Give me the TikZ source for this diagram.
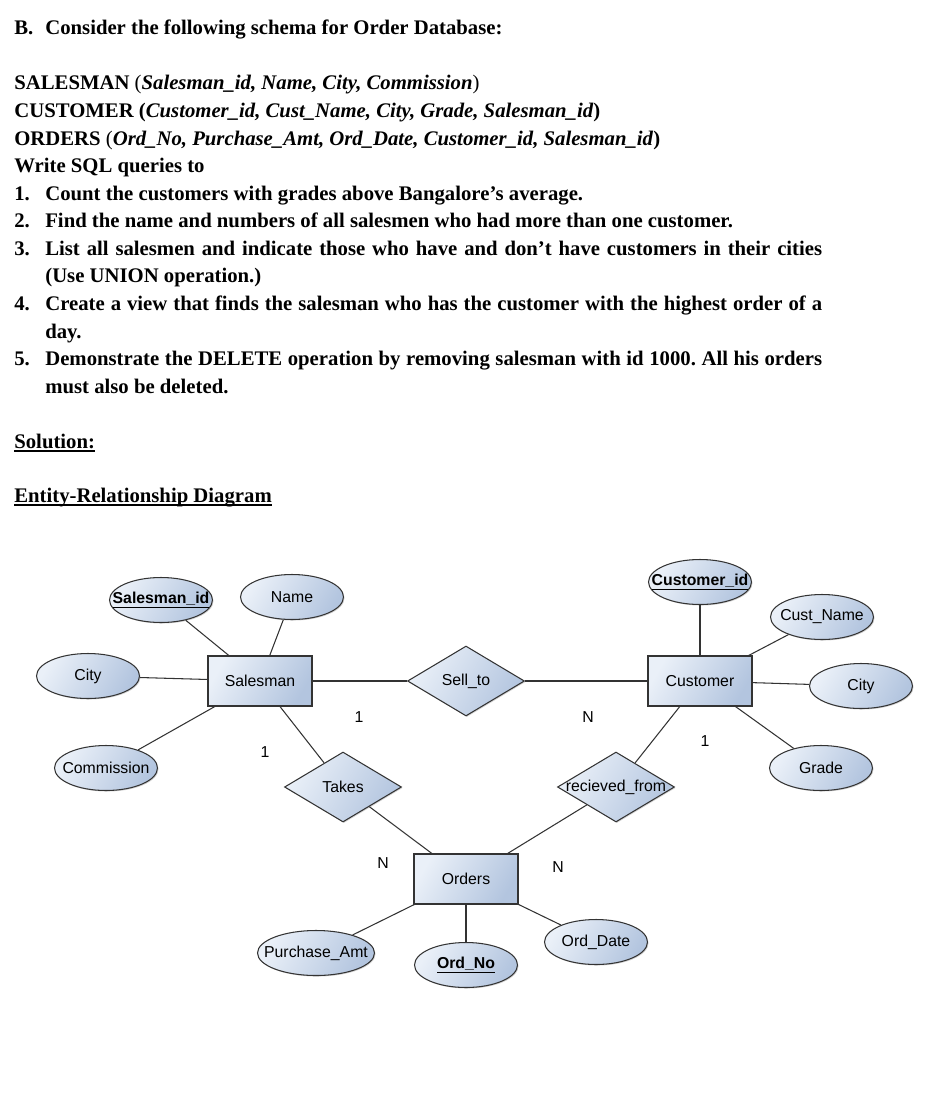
\documentclass[tikz,border=0pt]{standalone}
\usepackage{fontspec}
\setmainfont{Liberation Serif}
\newfontfamily\erfont{Liberation Sans}
\usetikzlibrary{shapes.geometric,shadows}
\definecolor{erlight}{HTML}{EAF0F8}
\definecolor{erdark}{HTML}{B3C5DF}
\definecolor{erline}{HTML}{333333}
\frenchspacing
\newcommand{\itm}[1]{\makebox[0.62cm][l]{#1}}
\newcommand{\jline}[1]{\makebox[16.16cm][s]{#1}}
\newcommand{\lbl}[1]{\makebox[0pt]{#1}}
\newsavebox{\ulbox}
\newcommand{\thul}[1]{\sbox{\ulbox}{#1}\usebox{\ulbox}\llap{\rule[-2.4pt]{\wd\ulbox}{1.2pt}}}
\begin{document}
\begin{tikzpicture}[x=0.02cm,y=-0.02cm,
  txt/.style={anchor=base west,inner sep=0,font=\fontsize{11.8}{14}\selectfont\bfseries},
  er/.style={draw=erline,line width=0.6pt,left color=erlight,right color=erdark,shading angle=60,
    drop shadow={shadow xshift=0.6pt,shadow yshift=-0.6pt,opacity=0.35},
    font=\erfont\fontsize{9}{11}\selectfont,inner sep=0},
  ent/.style={er,rectangle,minimum width=2.08cm,minimum height=1cm},
  attr/.style={er,ellipse,minimum width=2.06cm,minimum height=0.9cm},
  rel/.style={er,diamond,minimum width=2.34cm,minimum height=1.4cm},
  card/.style={font=\erfont\fontsize{9}{11}\selectfont,inner sep=0},
  link/.style={draw=erline,line width=0.6pt}]
\useasboundingbox (0,0) rectangle (936,1116);
% question text
\node[txt] (hB) at (14,34) {\itm{B.}Consider the following schema for Order Database:};
\node[txt] (hS) at (14,89) {SALESMAN {\mdseries(}\textit{Salesman\_id, Name, City, Commission}{\mdseries)}};
\node[txt] (hC) at (14,117) {CUSTOMER (\textit{Customer\_id, Cust\_Name, City, Grade, Salesman\_id})};
\node[txt] (hO) at (14,145) {ORDERS {\mdseries(}\textit{Ord\_No, Purchase\_Amt, Ord\_Date, Customer\_id, Salesman\_id})};
\node[txt] (hW) at (14,172) {Write SQL queries to};
\node[txt] (q1) at (14,200) {\itm{1.}Count the customers with grades above Bangalore's average.};
\node[txt] (q2) at (14,227) {\itm{2.}Find the name and numbers of all salesmen who had more than one customer.};
\node[txt] (q3) at (14,255) {\jline{\itm{3.}List all salesmen and indicate those who have and don't have customers in their cities}};
\node[txt] (q3b) at (45,282) {(Use UNION operation.)};
\node[txt] (q4) at (14,310) {\jline{\itm{4.}Create a view that finds the salesman who has the customer with the highest order of a}};
\node[txt] (q4b) at (45,338) {day.};
\node[txt] (q5) at (14,365) {\jline{\itm{5.}Demonstrate the DELETE operation by removing salesman with id 1000. All his orders}};
\node[txt] (q5b) at (45,393) {must also be deleted.};
\node[txt] (sol) at (14,448) {\thul{Solution:}};
\node[txt] (erd) at (14,502) {\thul{Entity-Relationship Diagram}};
% entities and relationships
\node[ent] (salesman) at (260,681) {Salesman};
\node[ent] (customer) at (700,681) {Customer};
\node[ent] (orders) at (466,879) {Orders};
\node[rel] (sellto) at (466,681) {Sell\_to};
\node[rel] (takes) at (343,787) {Takes};
\node[rel] (recv) at (616,787) {\lbl{recieved\_from}};
% attributes
\node[attr] (sid) at (161,600) {\lbl{\underline{\textbf{Salesman\_id}}}};
\node[attr] (sname) at (292,597) {\lbl{Name}};
\node[attr] (scity) at (88,676) {\lbl{City}};
\node[attr] (scomm) at (106,768) {\lbl{Commission}};
\node[attr] (cid) at (700,582) {\lbl{\underline{\textbf{Customer\_id}}}};
\node[attr] (cname) at (822,617) {\lbl{Cust\_Name}};
\node[attr] (ccity) at (861,686) {\lbl{City}};
\node[attr] (cgrade) at (821,768) {\lbl{Grade}};
\node[attr,minimum width=2.34cm] (pamt) at (316,953) {\lbl{Purchase\_Amt}};
\node[attr] (ordno) at (466,965) {\lbl{\underline{\textbf{Ord\_No}}}};
\node[attr] (odate) at (596,942) {\lbl{Ord\_Date}};
% connectors
\draw[link] (sid) -- (salesman);
\draw[link] (sname) -- (salesman);
\draw[link] (scity) -- (salesman);
\draw[link] (scomm) -- (salesman);
\draw[link] (salesman) -- (sellto);
\draw[link] (sellto) -- (customer);
\draw[link] (salesman) -- (takes);
\draw[link] (takes) -- (orders);
\draw[link] (customer) -- (recv);
\draw[link] (recv) -- (orders);
\draw[link] (cid) -- (customer);
\draw[link] (cname) -- (customer);
\draw[link] (ccity) -- (customer);
\draw[link] (cgrade) -- (customer);
\draw[link] (orders) -- (pamt);
\draw[link] (orders) -- (ordno);
\draw[link] (orders) -- (odate);
% cardinalities
\node[card] (c1) at (359,717) {1};
\node[card] (c2) at (588,717) {N};
\node[card] (c3) at (265,752) {1};
\node[card] (c4) at (705,741) {1};
\node[card] (c5) at (383,863) {N};
\node[card] (c6) at (558,867) {N};
\end{tikzpicture}
\end{document}
